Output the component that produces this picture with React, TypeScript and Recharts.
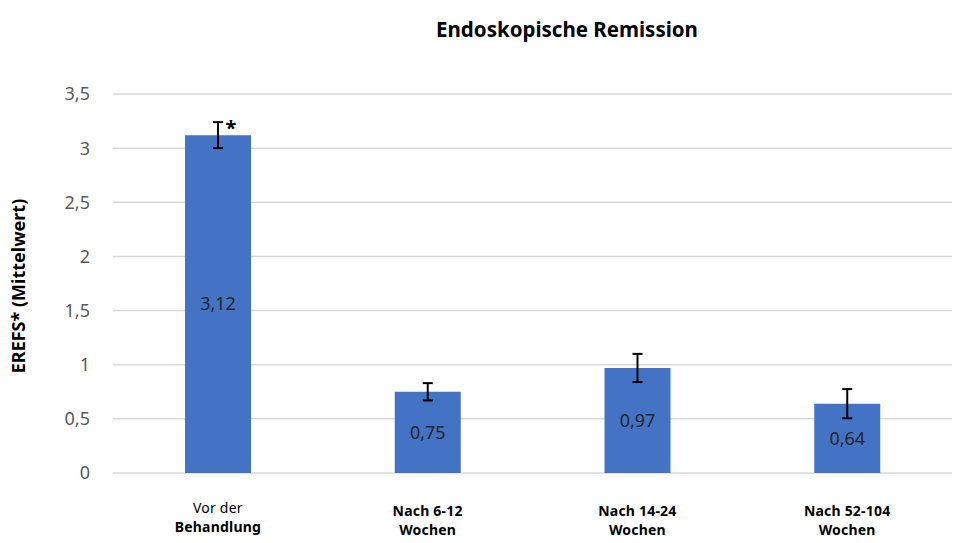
import React from 'react';
import { BarChart, Bar, XAxis, YAxis, CartesianGrid, ErrorBar, LabelList } from 'recharts';

const categories = ['Vor der\nBehandlung', 'Nach 6-12\nWochen', 'Nach 14-24\nWochen', 'Nach 52-104\nWochen'];
const means = [3.12, 0.75, 0.97, 0.64];
const errors = [0.12, 0.08, 0.13, 0.135];
const marks = ['*', '', '', ''];
const yTicks = [0, 0.5, 1, 1.5, 2, 2.5, 3, 3.5];

const data = categories.map((name, i) => ({ name, value: means[i], err: errors[i], mark: marks[i] }));

const fmt = (v: number) => String(v).replace('.', ',');

const XTick = (props: any) => {
  const { x, y, payload, index } = props;
  const lines = String(payload.value).split('\n');
  const off = index === 0 ? 0 : 3;
  return (
    <g transform={`translate(${x},${y})`}>
      {lines.map((l, i) => (
        <text
          key={i}
          x={0}
          y={26 + off + i * 19}
          textAnchor="middle"
          dominantBaseline="central"
          fontSize={14}
          fontWeight={index === 0 && i === 0 ? 400 : 700}
          fill="#000"
          fontFamily="Noto Sans"
          letterSpacing={0.2}
        >
          {l}
        </text>
      ))}
    </g>
  );
};

const MarkLabel = (props: any) => {
  const { x, y, width, value } = props;
  if (!value) return null;
  return (
    <text x={x + width / 2 + 13} y={y - 8} textAnchor="middle" dominantBaseline="central" fontSize={20} fontWeight={700} fill="#000" fontFamily="Noto Sans">
      {value}
    </text>
  );
};

const App: React.FC = () => {
  return (
    <div style={{ position: 'absolute', left: 0, top: 0, width: 970, height: 543, background: '#fff' }}>
      <div
        style={{
          position: 'absolute',
          left: 567,
          top: 29,
          transform: 'translate(-50%, -50%)',
          fontFamily: 'Noto Sans',
          fontWeight: 700,
          fontSize: 20.5,
          whiteSpace: 'nowrap',
          color: '#000',
        }}
      >
        Endoskopische Remission
      </div>
      <div
        style={{
          position: 'absolute',
          left: 18,
          top: 286,
          transform: 'translate(-50%, -50%) rotate(-90deg)',
          fontFamily: 'Noto Sans',
          fontWeight: 700,
          fontSize: 18,
          whiteSpace: 'nowrap',
          color: '#000',
        }}
      >
        EREFS* (Mittelwert)
      </div>
      <BarChart width={970} height={543} data={data} margin={{ top: 94, right: 18, left: 0, bottom: 0 }}>
        <CartesianGrid vertical={false} stroke="#d9d9d9" strokeWidth={1.5} />
        <XAxis dataKey="name" axisLine={false} tickLine={false} height={70} interval={0} tick={<XTick />} />
        <YAxis
          width={113}
          domain={[0, 3.5]}
          ticks={yTicks}
          axisLine={false}
          tickLine={false}
          tickMargin={17}
          tickFormatter={fmt}
          tick={{ fill: '#595959', fontSize: 18, fontFamily: 'Noto Sans' }}
        />
        <Bar dataKey="value" fill="#4472C4" barSize={66} isAnimationActive={false}>
          <ErrorBar dataKey="err" stroke="#000" strokeWidth={2} width={5} />
          <LabelList dataKey="value" position="center" formatter={(v: any) => fmt(v)} fill="#262626" fontSize={18} fontFamily="Noto Sans" />
          <LabelList dataKey="mark" content={<MarkLabel />} />
        </Bar>
      </BarChart>
    </div>
  );
};

export default App;
